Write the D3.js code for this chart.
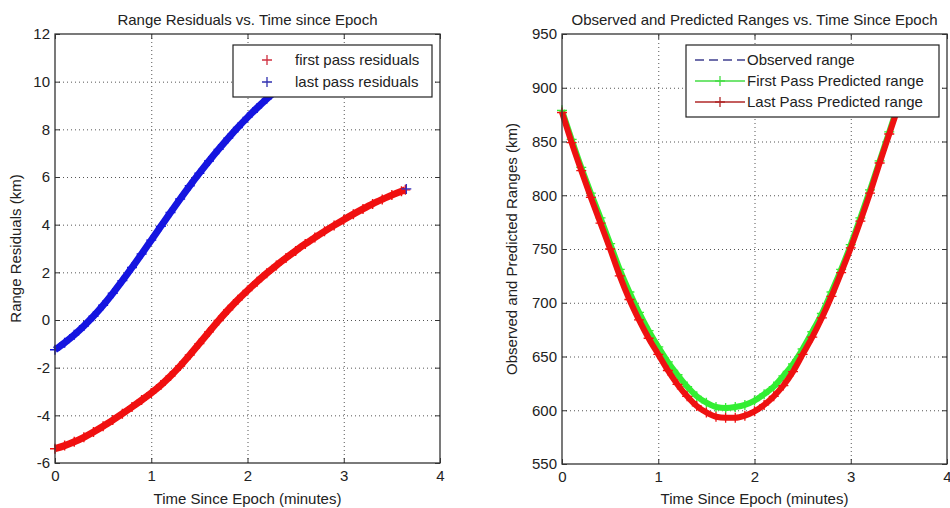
<!DOCTYPE html>
<html>
<head>
<meta charset="utf-8">
<script src="https://cdn.jsdelivr.net/npm/d3@7"></script>
<style>
  body { margin: 0; background: #fff; }
  svg { display: block; font-family: "Liberation Sans", Arial, sans-serif; }
  .grid line { stroke: #555; stroke-dasharray: 1,3; }
  .grid path { display: none; }
</style>
</head>
<body>
<svg width="950" height="508"></svg>
<script>
// ***********************************
// Data

// Left panel: residuals (km) vs time since epoch (minutes)
var residualTime = [0, 0.1, 0.2, 0.3, 0.4, 0.5, 0.6, 0.7, 0.8, 0.9, 1.0, 1.1, 1.2, 1.3, 1.4, 1.5, 1.6, 1.7, 1.8, 1.9,
  2.0, 2.1, 2.2, 2.3, 2.4, 2.5, 2.6, 2.7, 2.8, 2.9, 3.0, 3.1, 3.2, 3.3, 3.4, 3.5, 3.6, 3.64];
var firstPassResiduals = [-5.4, -5.27, -5.11, -4.92, -4.7, -4.46, -4.2, -3.93, -3.65, -3.36, -3.06, -2.73, -2.35, -1.93, -1.47, -0.99, -0.5, -0.02, 0.43, 0.85,
  1.24, 1.61, 1.96, 2.29, 2.6, 2.9, 3.19, 3.46, 3.72, 3.97, 4.21, 4.44, 4.66, 4.87, 5.06, 5.24, 5.4, 5.46];
// the blue band runs on under the legend box
var lastPassTime = [0, 0.1, 0.2, 0.3, 0.4, 0.5, 0.6, 0.7, 0.8, 0.9, 1.0, 1.1, 1.2, 1.3, 1.4, 1.5, 1.6, 1.7, 1.8, 1.9,
  2.0, 2.1, 2.2, 2.3, 2.4, 2.5];
var lastPassResiduals = [-1.25, -0.95, -0.62, -0.25, 0.16, 0.62, 1.12, 1.65, 2.2, 2.77, 3.35, 3.93, 4.51, 5.08, 5.63, 6.16, 6.67, 7.16, 7.63, 8.08,
  8.5, 8.9, 9.28, 9.64, 9.98, 10.3];
// single blue cross sitting at the end of the red band
var lastPassEndTime = [3.65];
var lastPassEndValue = [5.5];

// Right panel: ranges (km) vs time since epoch (minutes)
var rangeTime = [0, 0.1, 0.2, 0.3, 0.4, 0.5, 0.6, 0.7, 0.8, 0.9, 1.0, 1.1, 1.2, 1.3, 1.4, 1.5, 1.6, 1.7, 1.8, 1.9,
  2.0, 2.1, 2.2, 2.3, 2.4, 2.5, 2.6, 2.7, 2.8, 2.9, 3.0, 3.1, 3.2, 3.3, 3.4, 3.5];
var firstPassRange = [879, 852, 826, 802, 779, 755, 731, 710, 691, 674, 659, 645, 633, 622, 613, 607, 603, 602, 603, 605,
  609, 615, 622, 632, 643, 657, 673, 690, 710, 731, 754, 779, 805, 832, 859, 886];
var lastPassRange = [877, 849, 823, 798, 774, 750, 725, 703, 684, 667, 652, 637, 624, 613, 604, 598, 594, 593, 593, 595,
  599, 605, 613, 623, 636, 652, 668, 686, 706, 728, 751, 776, 802, 830, 857, 884];
// observed range is completely hidden under the predicted curves
var observedRange = lastPassRange.slice();

var xTicks = [0, 1, 2, 3, 4];
var residualTicks = [-6, -4, -2, 0, 2, 4, 6, 8, 10, 12];
var rangeTicks = [550, 600, 650, 700, 750, 800, 850, 900, 950];

// ***********************************
// Set up the svg
var svg = d3.select("svg");
var FONT = 15;

var crossPath = function(s) { return "M" + (-s) + ",0H" + s + "M0," + (-s) + "V" + s; };
// MATLAB prints a plain hyphen for negatives
var plainNumber = function(d) { return String(d); };

// Build one MATLAB-looking panel and hand back its scales
function makePanel(box, yDomain, yTicks, title, yLabel) {
  var x = d3.scaleLinear().domain([0, 4]).range([box.left, box.right]);
  var y = d3.scaleLinear().domain(yDomain).range([box.bottom, box.top]);
  var h = box.bottom - box.top, w = box.right - box.left;
  var g = svg.append("g");

  // dotted grid
  g.append("g").attr("class", "grid")
    .attr("transform", "translate(0," + box.bottom + ")")
    .call(d3.axisBottom(x).tickValues(xTicks.slice(1, -1)).tickSize(-h).tickFormat(""));
  g.append("g").attr("class", "grid")
    .attr("transform", "translate(" + box.left + ",0)")
    .call(d3.axisLeft(y).tickValues(yTicks.slice(1, -1)).tickSize(-w).tickFormat(""));

  var plot = g.append("g");

  // frame and inward ticks on all four sides
  var frame = g.append("g");
  frame.append("rect")
    .attr("x", box.left).attr("y", box.top)
    .attr("width", w).attr("height", h)
    .attr("fill", "none").attr("stroke", "#333").attr("stroke-width", 1.3);

  var axes = [
    frame.append("g").attr("transform", "translate(0," + box.bottom + ")")
      .call(d3.axisBottom(x).tickValues(xTicks).tickSize(-5).tickSizeOuter(0).tickPadding(7).tickFormat(plainNumber)),
    frame.append("g").attr("transform", "translate(" + box.left + ",0)")
      .call(d3.axisLeft(y).tickValues(yTicks).tickSize(-5).tickSizeOuter(0).tickPadding(5).tickFormat(plainNumber)),
    frame.append("g").attr("transform", "translate(0," + box.top + ")")
      .call(d3.axisTop(x).tickValues(xTicks).tickSize(-5).tickSizeOuter(0).tickFormat("")),
    frame.append("g").attr("transform", "translate(" + box.right + ",0)")
      .call(d3.axisRight(y).tickValues(yTicks).tickSize(-5).tickSizeOuter(0).tickFormat(""))
  ];
  axes.forEach(function(a) {
    a.attr("font-size", FONT).attr("font-family", null);
    a.select(".domain").remove();
    a.selectAll("line").attr("stroke", "#333");
    a.selectAll("text").attr("fill", "#222");
  });

  // title and axis labels
  g.append("text")
    .attr("x", (box.left + box.right) / 2).attr("y", 25)
    .attr("text-anchor", "middle").attr("font-size", FONT).attr("fill", "#222")
    .text(title);
  g.append("text")
    .attr("x", (box.left + box.right) / 2).attr("y", 504)
    .attr("text-anchor", "middle").attr("font-size", FONT).attr("fill", "#222")
    .text("Time Since Epoch (minutes)");
  g.append("text")
    .attr("transform", "translate(" + box.labelX + "," + (box.top + box.bottom) / 2 + ") rotate(-90)")
    .attr("text-anchor", "middle").attr("font-size", FONT).attr("fill", "#222")
    .text(yLabel);

  return { x: x, y: y, plot: plot, g: g };
}

// ***********************************
// Left panel: residuals drawn as dense red / blue crosses
var left = makePanel({ left: 55, right: 440, top: 34, bottom: 463, labelX: 21 },
  [-6, 12], residualTicks,
  "Range Residuals vs. Time since Epoch", "Range Residuals (km)");

function crossBand(panel, times, values, color) {
  var pts = times.map(function(t, i) { return [t, values[i]]; });
  panel.plot.append("path")
    .datum(pts)
    .attr("fill", "none")
    .attr("stroke", color)
    .attr("stroke-width", 7)
    .attr("d", d3.line().x(function(d) { return panel.x(d[0]); })
      .y(function(d) { return panel.y(d[1]); }).curve(d3.curveMonotoneX));
  panel.plot.selectAll(null).data(pts).enter().append("path")
    .attr("transform", function(d) { return "translate(" + panel.x(d[0]) + "," + panel.y(d[1]) + ")"; })
    .attr("d", crossPath(5))
    .attr("stroke", color).attr("stroke-width", 1.4).attr("fill", "none");
}

crossBand(left, residualTime, firstPassResiduals, "#f01010");
crossBand(left, lastPassTime, lastPassResiduals, "#1515e0");
left.plot.selectAll(null).data(lastPassEndTime).enter().append("path")
  .attr("transform", function(d, i) { return "translate(" + left.x(d) + "," + left.y(lastPassEndValue[i]) + ")"; })
  .attr("d", crossPath(5)).attr("stroke", "#3030c0").attr("stroke-width", 1.4);

// legend
var legL = left.g.append("g");
legL.append("rect").attr("x", 233).attr("y", 45).attr("width", 199).attr("height", 52)
  .attr("fill", "#fff").attr("stroke", "#222").attr("stroke-width", 1.2);
[["first pass residuals", "#d03040", 60], ["last pass residuals", "#3030b0", 82]].forEach(function(r) {
  legL.append("path").attr("transform", "translate(267," + r[2] + ")")
    .attr("d", crossPath(5)).attr("stroke", r[1]).attr("stroke-width", 1.3);
  legL.append("text").attr("x", 295).attr("y", r[2] + 5)
    .attr("font-size", FONT).attr("fill", "#222").text(r[0]);
});

// ***********************************
// Right panel: observed and predicted ranges
var right = makePanel({ left: 562, right: 947, top: 34, bottom: 464, labelX: 517 },
  [550, 950], rangeTicks,
  "Observed and Predicted Ranges vs. Time Since Epoch", "Observed and Predicted Ranges (km)");

var rangeLine = d3.line()
  .x(function(d) { return right.x(d[0]); })
  .y(function(d) { return right.y(d[1]); })
  .curve(d3.curveMonotoneX);

function rangeSeries(values, color, dashed) {
  var pts = rangeTime.map(function(t, i) { return [t, values[i]]; });
  right.plot.append("path").datum(pts)
    .attr("fill", "none").attr("stroke", color)
    .attr("stroke-width", dashed ? 1.2 : 6)
    .attr("stroke-dasharray", dashed ? "6,4" : null)
    .attr("d", rangeLine);
  if (!dashed) {
    right.plot.selectAll(null).data(pts).enter().append("path")
      .attr("transform", function(d) { return "translate(" + right.x(d[0]) + "," + right.y(d[1]) + ")"; })
      .attr("d", crossPath(5))
      .attr("stroke", color).attr("stroke-width", 1.3);
  }
}

rangeSeries(observedRange, "#303090", true);
rangeSeries(firstPassRange, "#33ee33", false);
rangeSeries(lastPassRange, "#ee1111", false);

var legR = right.g.append("g");
legR.append("rect").attr("x", 686).attr("y", 45).attr("width", 253).attr("height", 72)
  .attr("fill", "#fff").attr("stroke", "#222").attr("stroke-width", 1.2);
[["Observed range", "#404090", 60, true],
 ["First Pass Predicted range", "#44dd44", 81, false],
 ["Last Pass Predicted range", "#b02828", 102, false]].forEach(function(r) {
  legR.append("line").attr("x1", 695).attr("x2", 745).attr("y1", r[2]).attr("y2", r[2])
    .attr("stroke", r[1]).attr("stroke-width", 1.3)
    .attr("stroke-dasharray", r[3] ? "9,5" : null);
  if (!r[3]) {
    legR.append("path").attr("transform", "translate(720," + r[2] + ")")
      .attr("d", crossPath(5)).attr("stroke", r[1]).attr("stroke-width", 1.3);
  }
  legR.append("text").attr("x", 747).attr("y", r[2] + 5)
    .attr("font-size", FONT).attr("fill", "#222").text(r[0]);
});
</script>
</body>
</html>
